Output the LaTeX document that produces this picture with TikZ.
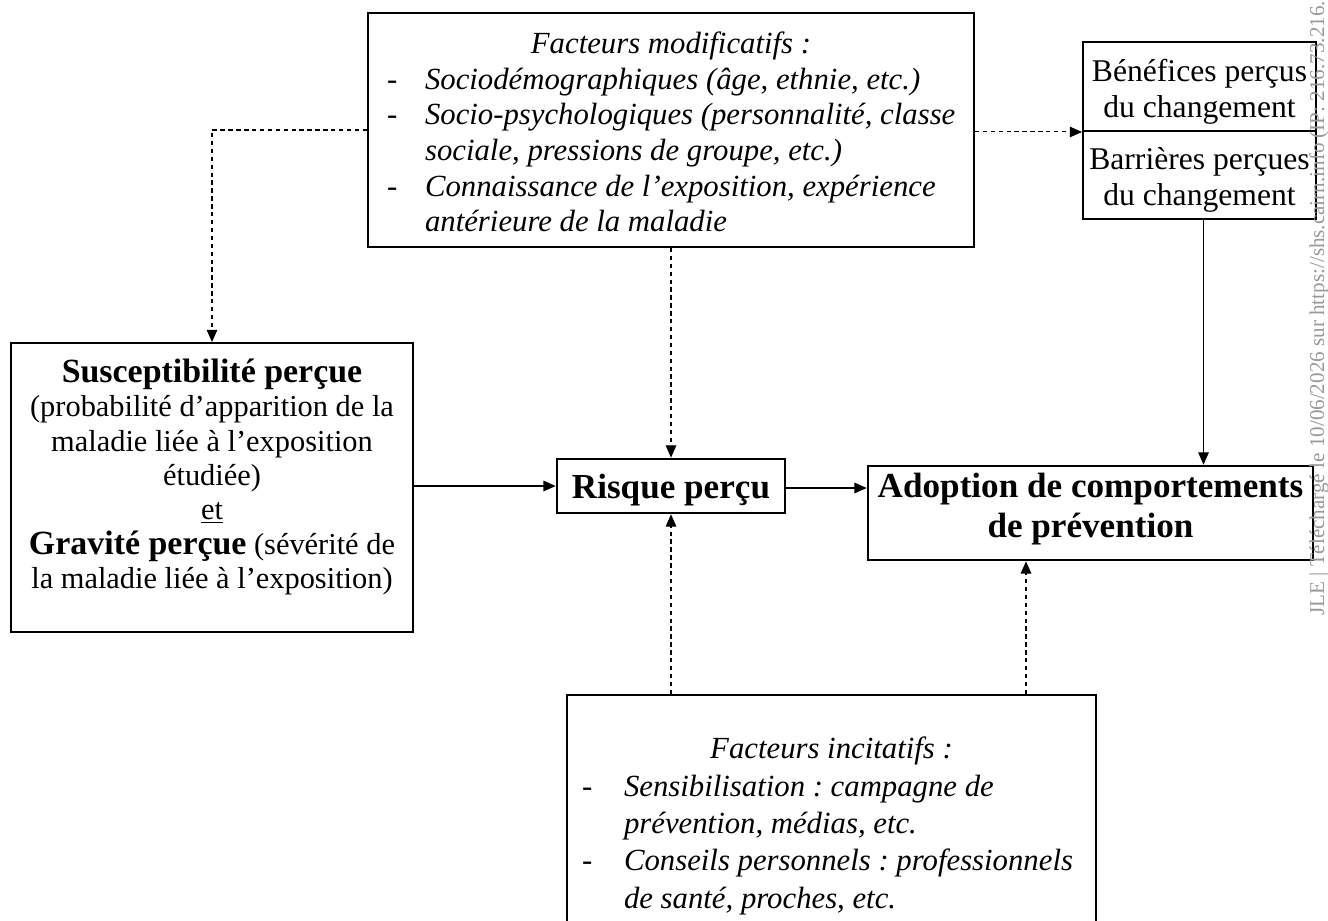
\documentclass[tikz,border=0pt]{standalone}
\usepackage{fontspec}
\setmainfont{Liberation Serif}
\usetikzlibrary{arrows.meta}

\begin{document}
\frenchspacing
\begin{tikzpicture}[
x=0.02cm,
y=-0.02cm,
every node/.style={font=\fontsize{18}{20.4}\selectfont, inner sep=0pt},
box/.style={draw, line width=1.1pt},
bigbox/.style={draw, line width=1.5pt},
words/.style={align=center},
bigwords/.style={align=center, font=\fontsize{20}{22.8}\selectfont\bfseries},
link/.style={-{Triangle[length=7pt,width=6pt]}, line width=0.8pt},
dotlink/.style={link, line width=0.6pt, dash pattern=on 2.5pt off 2pt}
]

\useasboundingbox (0,0) rectangle (1328,920);

% modifying factors
\node[box, minimum width=12.12cm, minimum height=4.68cm] (mod) at (671,130) {};
\node[font=\fontsize{17.5}{20.3}\selectfont] (modtxt) at (671,135.5) {\makebox[11.36cm][l]{%
\begin{tabular}{@{}p{0.76cm}@{}l@{}}
\multicolumn{2}{@{}l@{}}{\makebox[11.36cm]{\itshape Facteurs modificatifs :}}\\
- & \itshape Sociodémographiques (âge, ethnie, etc.)\\
- & \itshape Socio-psychologiques (personnalité, classe\\
  & \itshape sociale, pressions de groupe, etc.)\\
- & \itshape Connaissance de l’exposition, expérience\\
  & \itshape antérieure de la maladie
\end{tabular}}};

% benefits and barriers
\node[box, minimum width=4.66cm, minimum height=1.78cm] (ben) at (1199.5,86.5) {};
\node[box, minimum width=4.66cm, minimum height=1.76cm] (bar) at (1199.5,175) {};
\node[words] (bentxt) at (1199.5,92) {Bénéfices perçus\\du changement};
\node[words] (bartxt) at (1199.5,180) {Barrières perçues\\du changement};

% perceived threat
\node[box, minimum width=8.04cm, minimum height=5.78cm] (susc) at (212,487.5) {};
\node[words, font=\fontsize{17.3}{19.6}\selectfont] (susctxt) at (212,477) {%
{\fontsize{19.3}{19.6}\selectfont\bfseries Susceptibilité perçue}\\
(probabilité d’apparition de la\\
maladie liée à l’exposition\\
étudiée)\\
\underline{et}\\
{\fontsize{19.3}{19.6}\selectfont\bfseries Gravité perçue} (sévérité de\\
la maladie liée à l’exposition)};

% risk and behaviour
\node[bigbox, minimum width=4.56cm, minimum height=1.08cm] (risk) at (671,486) {};
\node[bigwords] (risktxt) at (671,490) {Risque perçu};
\node[bigbox, minimum width=8.9cm, minimum height=1.88cm] (adopt) at (1090.5,513) {};
\node[bigwords] (adopttxt) at (1090.5,509.5) {Adoption de comportements\\de prévention};

% cues to action
\node[box, minimum width=10.58cm, minimum height=5.12cm] (cues) at (831.5,823) {};
\node[font=\fontsize{17.5}{21.3}\selectfont] (cuestxt) at (831.5,826) {\makebox[9.98cm][l]{%
\begin{tabular}{@{}p{0.84cm}@{}l@{}}
\multicolumn{2}{@{}l@{}}{\makebox[9.98cm]{\itshape Facteurs incitatifs :}}\\
- & \itshape Sensibilisation : campagne de\\
  & \itshape prévention, médias, etc.\\
- & \itshape Conseils personnels : professionnels\\
  & \itshape de santé, proches, etc.
\end{tabular}}};

\coordinate (barB) at ([xshift=0.08cm]bar.south);
\coordinate (cuesB) at ([xshift=9.2cm]cues.north west);

% connecting lines
\draw[dotlink] (mod.west) -| (susc.north);
\draw[dotlink] (mod.east |- ben.south west) -- (ben.south west);
\draw[dotlink] (mod.south) -- (risk.north);
\draw[link, line width=0.5pt] (barB) -- (barB |- adopt.north);

\draw[link] (susc.east |- risk.west) -- (risk.west);
\draw[link] (risk.east |- 0,488) -- (adopt.west |- 0,488);

\draw[dotlink] (cues.north -| risk.south) -- (risk.south);
\draw[dotlink] (cuesB) -- (cuesB |- adopt.south);

% download stamp
\node[rotate=90, anchor=west, text=gray!80, font=\fontsize{12}{12}\selectfont] (stamp) at (1319,616)
{JLE | Téléchargé le 10/06/2026 sur https://shs.cairn.info (IP: 216.73.216.};

\end{tikzpicture}
\end{document}
